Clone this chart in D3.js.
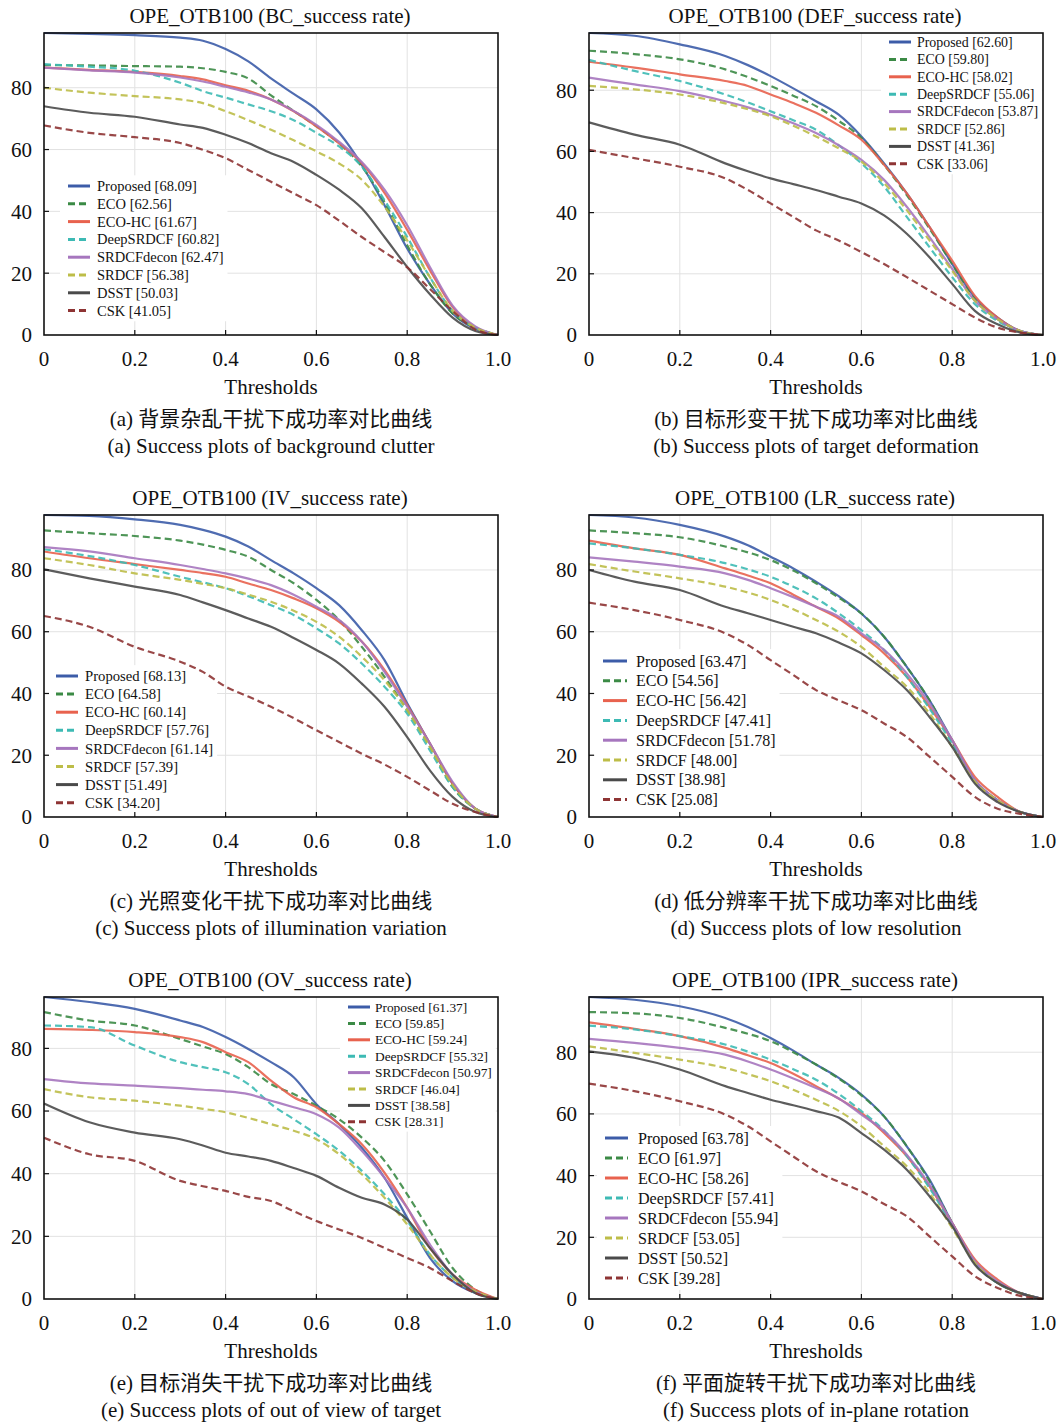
<!DOCTYPE html>
<html>
<head>
<meta charset="utf-8">
<script src="https://cdn.jsdelivr.net/npm/d3@7"></script>
<style>
  body { margin: 0; background: #fff; }
  svg text { font-family: "Liberation Serif", "Noto Sans CJK SC", serif; fill: #111; }
</style>
</head>
<body>
<svg id="chart" width="1062" height="1422"></svg>
<script>
const thresholds = [0, 0.1, 0.2, 0.3, 0.35, 0.4, 0.45, 0.5, 0.55, 0.6, 0.65, 0.7, 0.75, 0.8, 0.85, 0.9, 0.95, 1.0];
const trackers = ["Proposed", "ECO", "ECO-HC", "DeepSRDCF", "SRDCFdecon", "SRDCF", "DSST", "CSK"];
const xTicks = [0, 0.2, 0.4, 0.6, 0.8, 1.0];
const xTickLabels = ["0", "0.2", "0.4", "0.6", "0.8", "1.0"];
const yTicks = [0, 20, 40, 60, 80];

const titles = [
    "OPE_OTB100 (BC_success rate)", "OPE_OTB100 (DEF_success rate)",
    "OPE_OTB100 (IV_success rate)", "OPE_OTB100 (LR_success rate)",
    "OPE_OTB100 (OV_success rate)", "OPE_OTB100 (IPR_success rate)"
];
const captionsCn = [
    "(a) 背景杂乱干扰下成功率对比曲线", "(b) 目标形变干扰下成功率对比曲线",
    "(c) 光照变化干扰下成功率对比曲线", "(d) 低分辨率干扰下成功率对比曲线",
    "(e) 目标消失干扰下成功率对比曲线", "(f) 平面旋转干扰下成功率对比曲线"
];
const captionsEn = [
    "(a) Success plots of background clutter", "(b) Success plots of target deformation",
    "(c) Success plots of illumination variation", "(d) Success plots of low resolution",
    "(e) Success plots of out of view of target", "(f) Success plots of in-plane rotation"
];

// AUC scores shown in the legends, order = trackers
const bcScores = ["68.09", "62.56", "61.67", "60.82", "62.47", "56.38", "50.03", "41.05"];
const defScores = ["62.60", "59.80", "58.02", "55.06", "53.87", "52.86", "41.36", "33.06"];
const ivScores = ["68.13", "64.58", "60.14", "57.76", "61.14", "57.39", "51.49", "34.20"];
const lrScores = ["63.47", "54.56", "56.42", "47.41", "51.78", "48.00", "38.98", "25.08"];
const ovScores = ["61.37", "59.85", "59.24", "55.32", "50.97", "46.04", "38.58", "28.31"];
const iprScores = ["63.78", "61.97", "58.26", "57.41", "55.94", "53.05", "50.52", "39.28"];

// success rate curves, one row per tracker, one value per threshold
const bcCurves = [
    [97.7, 97.4, 97, 96.2, 95.2, 92.5, 88.5, 83, 78, 73, 65.5, 55, 42, 28, 16.5, 7, 2, 0],
    [87.3, 87.2, 87, 86.8, 86.3, 85.1, 83, 77.5, 72.5, 67.5, 62, 54.5, 43, 29, 16.5, 7, 2.4, 0],
    [86.5, 85.8, 85.1, 83.8, 82.7, 80.8, 79, 76.2, 72.4, 67.5, 62, 55.6, 46, 34, 21, 9, 2.4, 0],
    [87.6, 86.8, 85.5, 81.6, 78.9, 76.8, 74.6, 72.4, 69.5, 65.4, 61, 54.5, 43.6, 31.7, 18.7, 7.8, 2.4, 0],
    [86.5, 85.6, 84.9, 83.3, 82, 80.3, 78.5, 76.2, 72.5, 68, 62.5, 56, 47, 35.5, 22, 9.5, 2.8, 0],
    [80, 78.4, 77.3, 76.2, 75, 72.4, 69.5, 66.4, 63, 59.4, 55.5, 50.2, 41.5, 30.6, 18.7, 7.8, 2.4, 0],
    [74, 71.9, 70.6, 68.1, 67, 64.8, 62.1, 58.8, 56, 51.8, 47, 41, 31.7, 22, 13.2, 5.6, 1.3, 0],
    [67.8, 65.4, 64, 62.1, 59.9, 57.2, 53.4, 49.6, 45.8, 42, 37, 31.7, 26.8, 21.9, 14.9, 7.8, 1.8, 0]
];
const defCurves = [
    [98.7, 97.8, 95, 91.2, 88.2, 84.6, 80.6, 76.4, 72, 64.9, 56.1, 46.3, 35.3, 23.2, 12.3, 5.7, 1.3, 0],
    [92.9, 91.8, 90.1, 86.8, 84.3, 81.4, 78.2, 74.8, 70, 64.4, 55.6, 45.7, 34.8, 23.2, 11.7, 5.2, 1.3, 0],
    [89.3, 87.4, 85.2, 83, 81.4, 78.6, 75.8, 72.6, 68.5, 63.8, 55.6, 46.3, 35.3, 24.3, 12.8, 5.7, 1.3, 0],
    [89.9, 86.3, 83, 78.6, 76, 73.1, 70.2, 67.1, 62, 56.1, 48.5, 38.6, 28.7, 18.9, 10.1, 4.6, 1.3, 0],
    [84.1, 81.9, 79.7, 76.4, 74.4, 72, 69.2, 66, 62, 57.2, 50.7, 41.9, 32, 21.6, 11.2, 5.2, 1.3, 0],
    [81.4, 80.3, 78.6, 75.7, 73.8, 71.5, 68.4, 64.9, 61, 56.7, 49.6, 40.8, 30.9, 21, 11.2, 5.2, 1.3, 0],
    [69.5, 65.5, 62.2, 56.1, 53.5, 51.2, 49.3, 47.4, 45.2, 43, 39.1, 33.1, 25.4, 16.7, 7.9, 3.5, 0.8, 0],
    [60.5, 57.8, 55, 51.2, 47.4, 43, 38.6, 34.2, 30.9, 27.1, 23.2, 18.9, 14.5, 10.1, 5.7, 2.4, 0.8, 0]
];
const ivCurves = [
    [97.8, 97.5, 96.4, 94.6, 93, 90.8, 87.6, 83.2, 78.9, 74.1, 68.6, 60.5, 50.8, 36.8, 23.8, 10.8, 2.7, 0],
    [92.8, 91.9, 91, 89.5, 88.2, 86.5, 84.3, 80, 75.7, 70.3, 63.8, 55.1, 45.4, 34.6, 22.7, 9.7, 2.7, 0],
    [86, 83.8, 81.9, 80, 79, 77.8, 75.6, 73.5, 70.8, 67.6, 63.2, 56.8, 47.6, 36.2, 23.8, 10.8, 2.7, 0],
    [86.7, 84.5, 81.6, 77.8, 76, 74.1, 71.5, 68.6, 65.4, 61.1, 56.2, 49.7, 42.2, 33.5, 21.6, 9.7, 2.7, 0],
    [87.4, 86, 83.8, 81.6, 80.3, 78.9, 77.2, 75.1, 72, 68.1, 63.8, 56.8, 47, 35.7, 23.8, 11.4, 2.7, 0],
    [83.8, 81.6, 78.9, 76.8, 75.5, 74.1, 72, 69.7, 66.8, 63.2, 58.4, 51.9, 44.3, 34.6, 22.7, 10.3, 2.7, 0],
    [80.2, 77.3, 74.6, 71.9, 69.5, 67, 64.3, 61.6, 58, 54.1, 49.7, 43.2, 35.7, 25.9, 15.1, 6.5, 1.6, 0],
    [65.1, 61.6, 55.1, 50.3, 47, 42.2, 39, 35.7, 32, 28.1, 24.3, 20.5, 17, 13, 8.6, 4.3, 1.6, 0]
];
const lrCurves = [
    [97.8, 97, 94.6, 90.8, 88, 84.3, 80.5, 76.2, 71.5, 65.9, 58.4, 48.6, 37.8, 24.9, 11.9, 5.4, 1.6, 0],
    [92.8, 91.9, 90.6, 87.6, 85.7, 83.2, 79.8, 75.7, 71, 65.9, 58.4, 48.6, 37.8, 24.3, 11.4, 5.4, 1.6, 0],
    [89.5, 87, 84.9, 80.5, 78.2, 75.7, 72, 68.1, 64.3, 58.9, 53, 45.4, 35.7, 24.9, 13, 6.5, 1.6, 0],
    [88.6, 87, 84.9, 82.2, 80.2, 77.8, 74.6, 70.8, 66, 60.5, 54.1, 45.4, 35.1, 23.8, 11.4, 5.4, 1.6, 0],
    [84.1, 82.7, 81.1, 78.9, 76.8, 74.1, 71.2, 68.1, 64.9, 59.5, 54.1, 46.5, 36.8, 24.9, 11.9, 5.4, 1.6, 0],
    [81.9, 79.5, 77.3, 74.6, 72.7, 70.3, 67.3, 63.8, 60, 55.1, 48.6, 42.2, 33.5, 22.7, 11.4, 5.4, 1.6, 0],
    [80, 76.2, 73.5, 68.1, 66, 63.8, 61.6, 59.5, 56.5, 53, 47.6, 41.1, 32.4, 22.7, 10.8, 4.8, 1.6, 0],
    [69.4, 67, 63.8, 59.5, 55.7, 50.8, 46, 41.1, 37.8, 34.6, 30.3, 25.9, 19.5, 13, 6.5, 2.7, 1, 0]
];
const ovCurves = [
    [96.4, 94.8, 92.6, 88.9, 86.8, 83.6, 79.8, 75.6, 70.8, 62.2, 55.8, 48.3, 38.7, 25.9, 13.1, 5.7, 1.9, 0],
    [91.6, 88.9, 87.3, 83, 80.6, 78.2, 74, 68.6, 65.4, 61.7, 57.4, 51.5, 44.1, 33.4, 21.7, 9.9, 3, 0],
    [86.2, 85.9, 85.2, 83.6, 82, 78.8, 75.6, 69.7, 64.4, 61.2, 55.8, 49.4, 40.3, 29.1, 16.3, 7.8, 3, 0],
    [87.3, 86.8, 80.9, 75.6, 74, 72.4, 68.6, 62.2, 57.4, 52.6, 47.3, 40.9, 33.4, 24.9, 14.2, 6.8, 1.9, 0],
    [70.2, 68.8, 68.1, 67.3, 66.8, 66.3, 65.4, 63.3, 61.2, 59, 54.7, 47.3, 38.7, 29.1, 17.4, 7.8, 2.4, 0],
    [67, 64.4, 63.3, 61.7, 60.7, 59.6, 57.8, 55.8, 53.7, 51, 46.2, 39.8, 32.3, 23.8, 14.2, 6.8, 2.4, 0],
    [62.4, 56.4, 53.1, 51, 49, 46.7, 45.5, 44.1, 41.8, 39.3, 35.5, 32.3, 30.2, 25.4, 16.3, 7.8, 1.9, 0],
    [51.5, 46.2, 44.1, 37.7, 36, 34.5, 32.6, 31.3, 28, 24.9, 22.2, 19.5, 16.3, 13.1, 9.9, 5.7, 1.9, 0]
];
const iprCurves = [
    [97.9, 97, 94.9, 91.1, 88.2, 84.6, 80.5, 76, 71.7, 66.3, 59.2, 49.5, 38.7, 24.6, 11.7, 5.2, 1.9, 0],
    [93, 92.6, 91.1, 87.9, 86, 83.6, 80, 76, 71.5, 66, 59.2, 49.5, 38.2, 24.6, 11.7, 5.2, 1.9, 0],
    [89.7, 87.6, 85.2, 81.4, 79, 76.5, 73, 69, 65, 60.3, 53.8, 46.3, 36.5, 24.6, 12.8, 6.3, 1.9, 0],
    [88.6, 87.4, 85.2, 82.5, 80.2, 77.6, 74.5, 71.1, 66.5, 60.9, 54.6, 46.3, 36, 24, 11.7, 5.2, 1.9, 0],
    [84.3, 83, 81.4, 79.2, 77, 74.4, 71.5, 68.4, 65, 59.8, 54.4, 46.8, 37.1, 24.6, 12.2, 5.7, 1.9, 0],
    [81.9, 79.8, 77.6, 74.9, 72.9, 70.6, 67.8, 64.6, 61, 56, 49.5, 43, 34.4, 23, 11.7, 5.2, 1.9, 0],
    [80.3, 78.2, 74.4, 69, 66.8, 64.6, 62.8, 60.9, 58.8, 53.8, 48.4, 41.9, 33.3, 23.6, 11.1, 5.2, 1.9, 0],
    [69.8, 67.4, 64.1, 59.8, 56, 51.1, 46.2, 41.4, 38, 34.9, 30.8, 26.8, 20.3, 13.8, 7.4, 3.6, 1, 0]
];

const colors = ["#3c5ca8", "#3b8a45", "#e8624e", "#3dbab4", "#a676be", "#bdbd48", "#4a4a4a", "#8e3434"];
const dashes = [null, "7,4", null, "7,4", null, "7,4", null, "7,4"];

const panels = [
    { curves: bcCurves, scores: bcScores, yMax: 97.7, leg: { x: 24, tx: 53, y: 153, dy: 17.8, fs: 14.5, len: 22 } },
    { curves: defCurves, scores: defScores, yMax: 98.7, leg: { x: 300, tx: 328, y: 9, dy: 17.4, fs: 13.9, len: 22 } },
    { curves: ivCurves, scores: ivScores, yMax: 97.8, leg: { x: 12, tx: 41, y: 161, dy: 18.1, fs: 14.7, len: 22 } },
    { curves: lrCurves, scores: lrScores, yMax: 97.8, leg: { x: 14, tx: 47, y: 146, dy: 19.8, fs: 16, len: 24 } },
    { curves: ovCurves, scores: ovScores, yMax: 96.4, leg: { x: 304, tx: 331, y: 10, dy: 16.4, fs: 13.4, len: 22 } },
    { curves: iprCurves, scores: iprScores, yMax: 97.9, leg: { x: 16, tx: 49, y: 141, dy: 20, fs: 16.1, len: 23 } }
];

const svg = d3.select("#chart");

const pw = 454;
const ph = 302;

panels.forEach((p, k) => {
    const col = k % 2;
    const row = Math.floor(k / 2);
    const left = 44 + col * 545;
    const top = 33 + row * 482;

    const g = svg.append("g").attr("transform", `translate(${left},${top})`);

    const x = d3.scaleLinear().domain([0, 1]).range([0, pw]);
    const y = d3.scaleLinear().domain([0, p.yMax]).range([ph, 0]);

    // grille
    g.selectAll(".gx").data(xTicks.slice(1, -1)).enter().append("line")
        .attr("x1", d => x(d)).attr("x2", d => x(d))
        .attr("y1", 0).attr("y2", ph)
        .attr("stroke", "#e2e2e2").attr("stroke-width", 1);
    g.selectAll(".gy").data(yTicks.slice(1)).enter().append("line")
        .attr("x1", 0).attr("x2", pw)
        .attr("y1", d => y(d)).attr("y2", d => y(d))
        .attr("stroke", "#e2e2e2").attr("stroke-width", 1);

    // legend background
    const L = p.leg;
    let maxW = 0;
    const tmp = g.append("text").attr("font-size", L.fs);
    trackers.forEach((t, i) => {
        tmp.text(`${t} [${p.scores[i]}]`);
        maxW = Math.max(maxW, tmp.node().getComputedTextLength());
    });
    tmp.remove();
    g.append("rect")
        .attr("x", L.x - 8)
        .attr("y", L.y - L.dy * 0.6)
        .attr("width", L.tx - L.x + maxW + 12)
        .attr("height", L.dy * 8.2)
        .attr("fill", "#fff");

    // courbes
    const line = d3.line()
        .x((d, i) => x(thresholds[i]))
        .y(d => y(d))
        .curve(d3.curveMonotoneX);

    g.selectAll(".curve").data(p.curves).enter().append("path")
        .attr("d", d => line(d))
        .attr("fill", "none")
        .attr("stroke", (d, i) => colors[i])
        .attr("stroke-width", 2.2)
        .attr("stroke-opacity", 0.9)
        .attr("stroke-dasharray", (d, i) => dashes[i]);

    // legend entries
    trackers.forEach((t, i) => {
        const yy = L.y + i * L.dy;
        g.append("line")
            .attr("x1", L.x).attr("x2", L.x + L.len)
            .attr("y1", yy).attr("y2", yy)
            .attr("stroke", colors[i])
            .attr("stroke-width", 3)
            .attr("stroke-dasharray", dashes[i] ? "7,4" : null);
        g.append("text")
            .attr("x", L.tx).attr("y", yy)
            .attr("dy", "0.35em")
            .attr("font-size", L.fs)
            .text(`${t} [${p.scores[i]}]`);
    });

    // cadre + ticks
    g.append("rect")
        .attr("width", pw).attr("height", ph)
        .attr("fill", "none").attr("stroke", "#111").attr("stroke-width", 1.6);

    g.selectAll(".tx").data(xTicks.slice(1, -1)).enter().append("line")
        .attr("x1", d => x(d)).attr("x2", d => x(d))
        .attr("y1", ph).attr("y2", ph - 5)
        .attr("stroke", "#111").attr("stroke-width", 1.2);
    g.selectAll(".ty").data(yTicks.slice(1)).enter().append("line")
        .attr("x1", 0).attr("x2", 5)
        .attr("y1", d => y(d)).attr("y2", d => y(d))
        .attr("stroke", "#111").attr("stroke-width", 1.2);

    g.selectAll(".lx").data(xTicks).enter().append("text")
        .attr("x", d => x(d)).attr("y", ph + 31)
        .attr("text-anchor", "middle")
        .attr("font-size", 21)
        .text((d, i) => xTickLabels[i]);
    g.selectAll(".ly").data(yTicks).enter().append("text")
        .attr("x", -12).attr("y", d => y(d))
        .attr("dy", "0.35em")
        .attr("text-anchor", "end")
        .attr("font-size", 21)
        .text(d => d);

    g.append("text")
        .attr("x", pw / 2 - 1).attr("y", -10)
        .attr("text-anchor", "middle")
        .attr("font-size", 21)
        .text(titles[k]);

    g.append("text")
        .attr("x", pw / 2).attr("y", ph + 59)
        .attr("text-anchor", "middle")
        .attr("font-size", 21)
        .text("Thresholds");

    g.append("text")
        .attr("x", pw / 2).attr("y", ph + 91)
        .attr("text-anchor", "middle")
        .attr("font-size", 21)
        .text(captionsCn[k]);

    g.append("text")
        .attr("x", pw / 2).attr("y", ph + 118)
        .attr("text-anchor", "middle")
        .attr("font-size", 21)
        .text(captionsEn[k]);
});
</script>
</body>
</html>
